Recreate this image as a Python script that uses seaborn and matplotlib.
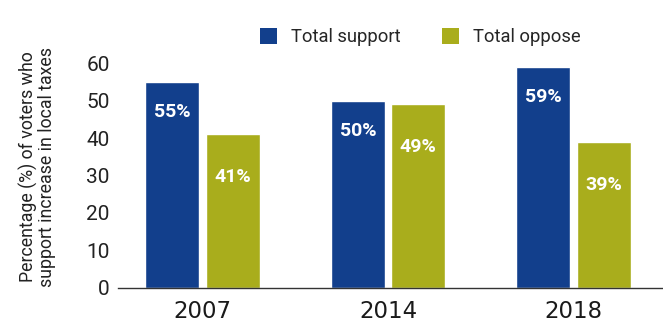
import matplotlib
matplotlib.use("Agg")
import matplotlib.pyplot as plt
from matplotlib.patches import Patch
import seaborn as sns
import pandas as pd

# Survey results by year
years = ["2007", "2014", "2018"]
support = [55, 50, 59]
oppose = [41, 49, 39]
series_names = ["Total support", "Total oppose"]
palette = {"Total support": "#123f8c", "Total oppose": "#a9ad1c"}

df = pd.DataFrame({
    "year": years * 2,
    "pct": support + oppose,
    "series": [series_names[0]] * len(years) + [series_names[1]] * len(years),
})

sns.set_theme(style="white")
narrow = ["Roboto", "DejaVu Sans"]

fig = plt.figure(figsize=(6.63, 3.25), dpi=100)
ax = fig.add_axes([0.178, 0.114, 0.822, 0.715])

sns.barplot(data=df, x="year", y="pct", hue="series", palette=palette,
            width=0.652, gap=0.107, saturation=1, ax=ax, legend=False)

ax.set_ylim(0, 62)
ax.set_xlim(-0.456, 2.482)
ax.set_yticks(range(0, 61, 10))
for s in ["top", "right", "left"]:
    ax.spines[s].set_visible(False)
ax.spines["bottom"].set_color("#333333")
ax.spines["bottom"].set_linewidth(1.0)
ax.tick_params(axis="both", length=0)
ax.tick_params(axis="y", pad=6)
ax.tick_params(axis="x", pad=9)
for lab in ax.get_yticklabels():
    lab.set_family(narrow)
    lab.set_fontsize(15)
    lab.set_color("#222222")
for lab in ax.get_xticklabels():
    lab.set_family("DejaVu Sans")
    lab.set_fontsize(16.5)
    lab.set_color("#1a1a1a")

ax.set_xlabel("")
ax.set_ylabel("Percentage (%) of voters who\nsupport increase in local taxes",
              family=narrow, fontsize=12.8, color="#222222", linespacing=1.0)
ax.yaxis.label.set_va("center")
ax.yaxis.set_label_coords(-0.147, 0.52)

# Value labels inside each bar
offsets = {"Total support": 8.0, "Total oppose": 11.5}
for container, name, vals in zip(ax.containers, series_names, [support, oppose]):
    for patch, v in zip(container.patches, vals):
        ax.text(patch.get_x() + patch.get_width() / 2, v - offsets[name],
                f"{v}%", ha="center", va="center", color="white",
                family=narrow, fontsize=14, fontweight="bold")

# Legend across the top
handles = [Patch(facecolor=palette[n], edgecolor="none") for n in series_names]
fig.legend(handles, series_names, loc="center", bbox_to_anchor=(0.634, 0.885),
           ncol=2, frameon=False, prop={"family": narrow, "size": 13.2},
           handlelength=0.95, handleheight=0.95, columnspacing=2.25,
           handletextpad=0.75)

fig.savefig("out.png", dpi=100, facecolor="white")
